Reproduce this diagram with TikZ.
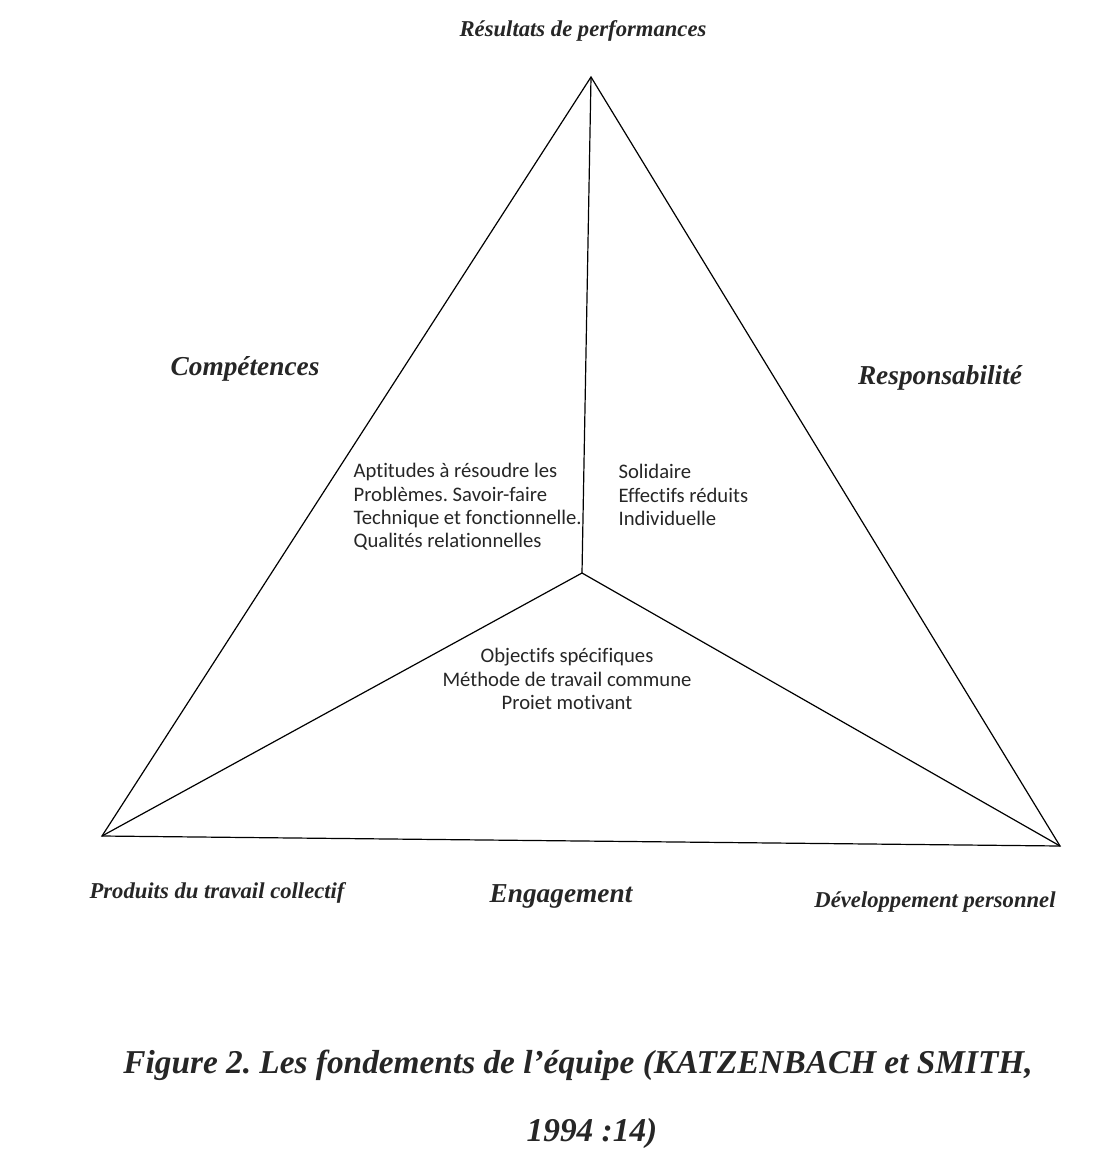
\documentclass[tikz,border=0pt]{standalone}
\usepackage{fontspec}
\setmainfont{Liberation Serif}
\newfontfamily\bodyfont[Ligatures={NoCommon}]{Carlito}
\usetikzlibrary{calc}

\begin{document}
\frenchspacing
\begin{tikzpicture}[
  x=0.75pt, y=-0.75pt,
  line width=0.9pt,
  side label/.style={font=\fontsize{20.5}{24}\selectfont\bfseries\itshape, text=black!85},
  corner label/.style={font=\fontsize{17}{20}\selectfont\bfseries\itshape, text=black!85},
  inner text/.style={font=\bodyfont\fontsize{15.5}{17.5}\selectfont, text=black!85, inner sep=0pt},
  caption text/.style={font=\fontsize{25}{30}\selectfont\bfseries\itshape, text=black!85}
]

% fixed frame of the page
\useasboundingbox (0,0) rectangle (1114,1167);

% ------------------- Triangle ------------------- %
\coordinate (top) at (591,77);
\coordinate (left) at (102,836);
\coordinate (right) at (1060,846);
\coordinate (mid) at (582,573);

\draw (top) -- (left) -- (right) -- cycle;
\draw (mid) -- (top);
\draw (mid) -- (left);
\draw (mid) -- (right);

% ------------------- Labels round the triangle ------------------- %
\node[corner label] (perf) at (583,31) {Résultats de performances};
\node[side label] (comp) at (245,369) {Compétences};
\node[side label] (resp) at (940,378) {Responsabilité};
\node[corner label] (prod) at (217,893) {Produits du travail collectif};
\node[side label] (eng) at (561,896) {Engagement};
\node[corner label] (dev) at (935,902) {Développement personnel};

% ------------------- Texts inside ------------------- %
\node[inner text, anchor=north west, align=left] (skills) at (353,463)
  {Aptitudes à résoudre les\\Problèmes. Savoir-faire\\Technique et fonctionnelle.\\Qualités relationnelles};
\node[inner text, anchor=north west, align=left] (duty) at (618,464)
  {Solidaire\\Effectifs réduits\\Individuelle};
\node[inner text, anchor=north, align=center] (goals) at (567,648)
  {Objectifs spécifiques\\Méthode de travail commune\\Proiet motivant};

% ------------------- Caption ------------------- %
\node[caption text] (cap1) at (578,1065) {Figure 2. Les fondements de l’équipe (KATZENBACH et SMITH,};
\node[caption text] (cap2) at (592,1133) {1994 :14)};

\end{tikzpicture}
\end{document}
